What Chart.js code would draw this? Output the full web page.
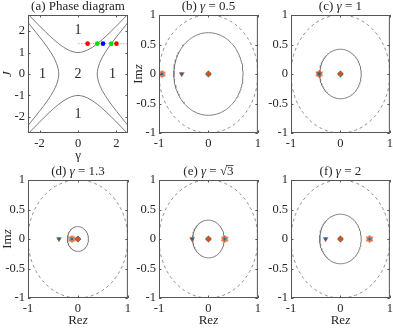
<!DOCTYPE html>
<html>
<head>
<meta charset="utf-8">
<script src="https://cdn.jsdelivr.net/npm/chart.js@4.4.0/dist/chart.umd.min.js"></script>
<style>
  body { margin: 0; background: #fff; }
  #fig { position: relative; width: 393px; height: 329px; overflow: hidden; }
  #fig canvas { position: absolute; }
</style>
</head>
<body>
<div id="fig"></div>
<script>
// ---- values ----
// (a) phase diagram
const gammas = [0.5, 1, 1.3, Math.sqrt(3), 2];
const dotJ = Math.SQRT2;
const dotColors = ['#ff0000', '#00e000', '#0000ff', '#00e000', '#ff0000'];
const topGamma = [-2.6, -2, -1.5, -1, -0.5, 0, 0.5, 1, 1.5, 2, 2.6];
const topJ     = [2.79, 2.24, 1.80, 1.41, 1.12, 1, 1.12, 1.41, 1.80, 2.24, 2.79];
const sideJ     = [-2.75, -2.5, -2, -1.5, -1, -0.5, 0, 0.5, 1, 1.5, 2, 2.5, 2.75];
const sideGamma = [2.93, 2.69, 2.24, 1.80, 1.41, 1.12, 1, 1.12, 1.41, 1.80, 2.24, 2.69, 2.93];
const regionText = ['1', '1', '2', '1', '1'];
const regionGamma = [0, -1.85, 0, 1.8, 0];
const regionJ = [2.03, 0, 0, 0, -1.88];
const phaseXTicks = [-2, 0, 2];
const phaseYTicks = [-2, -1, 0, 1, 2];

// (b)-(f) complex z plane
const gammaTitles = ['0.5', '1', '1.3', '√3', '2'];
const innerRadius = [0.70, 0.42, 0.21, 0.32, 0.42];
const outerRadius = 1;
const triRe = [-0.54, -0.43, -0.38, -0.33, -0.30];
const hexRe = [-0.94, -0.43, -0.12, 0.33, 0.59];
const centerRe = [0, 0, 0, 0, 0];
const zXTicks = [-1, 0, 1];
const zYTicks = [-1, -0.5, 0, 0.5, 1];

// ---- styling ----
const FONT = '"Liberation Serif", "Times New Roman", serif';
const INK = '#262626';
const GRAY = '#7a7a7a';
const BLUE = '#0072BD';
const ORANGE = '#D95319';
const fig = document.getElementById('fig');

function hexagram(color) {
  const c = document.createElement('canvas');
  c.width = 9; c.height = 9;
  const g = c.getContext('2d');
  g.strokeStyle = color; g.lineWidth = 1;
  [-Math.PI / 2, Math.PI / 2].forEach(off => {
    g.beginPath();
    for (let k = 0; k < 3; k++) {
      const a = off + k * 2 * Math.PI / 3;
      const x = 4.5 + 3.6 * Math.cos(a), y = 4.5 + 3.6 * Math.sin(a);
      k ? g.lineTo(x, y) : g.moveTo(x, y);
    }
    g.closePath(); g.stroke();
  });
  return c;
}
const hexImg = hexagram(ORANGE);

function ring(r) {
  const pts = [];
  for (let k = 0; k <= 160; k++) {
    const a = k / 160 * 2 * Math.PI;
    pts.push({ x: r * Math.cos(a), y: r * Math.sin(a) });
  }
  return pts;
}

// draw text made of parts [{t, it, over}] centred on (cx, cy)
function rich(ctx, parts, cx, cy, size) {
  const fonts = parts.map(p => (p.it ? 'italic ' : '') + size + 'px ' + FONT);
  const widths = parts.map((p, i) => { ctx.font = fonts[i]; return ctx.measureText(p.t).width; });
  let x = cx - widths.reduce((s, w) => s + w, 0) / 2;
  ctx.textBaseline = 'middle'; ctx.textAlign = 'left'; ctx.fillStyle = INK;
  parts.forEach((p, i) => {
    ctx.font = fonts[i];
    ctx.fillText(p.t, x, cy);
    if (p.over) {
      ctx.fillRect(x - 1, cy - size * 0.52, widths[i] + 1, 0.8);
    }
    x += widths[i];
  });
}

const decor = {
  id: 'decor',
  afterDatasetsDraw(chart, args, o) {
    const { ctx, chartArea: a, scales } = chart;
    ctx.save();
    ctx.strokeStyle = '#555'; ctx.lineWidth = 1;
    ctx.strokeRect(a.left + 0.5, a.top + 0.5, a.width - 1, a.height - 1);
    ctx.beginPath();
    scales.x.ticks.forEach(tk => {
      const px = Math.round(scales.x.getPixelForValue(tk.value)) + 0.5;
      ctx.moveTo(px, a.bottom); ctx.lineTo(px, a.bottom - 2.5);
      ctx.moveTo(px, a.top); ctx.lineTo(px, a.top + 2.5);
    });
    scales.y.ticks.forEach(tk => {
      const py = Math.round(scales.y.getPixelForValue(tk.value)) + 0.5;
      ctx.moveTo(a.left, py); ctx.lineTo(a.left + 2.5, py);
      ctx.moveTo(a.right, py); ctx.lineTo(a.right - 2.5, py);
    });
    ctx.stroke();
    (o.regions || []).forEach(r => {
      rich(ctx, [{ t: r.t }], scales.x.getPixelForValue(r.x), scales.y.getPixelForValue(r.y), 14);
    });
    ctx.restore();
  },
  afterDraw(chart, args, o) {
    const { ctx, chartArea: a } = chart;
    ctx.save();
    rich(ctx, o.title, (a.left + a.right) / 2, a.top - 8, 13);
    if (o.xLabel) rich(ctx, o.xLabel, (a.left + a.right) / 2, a.bottom + 23, 13);
    if (o.yLabel) {
      ctx.translate(a.left - 20, (a.top + a.bottom) / 2);
      ctx.rotate(-Math.PI / 2);
      rich(ctx, o.yLabel, 0, 0, 13);
    }
    ctx.restore();
  }
};

function axis(min, max, ticks, fit) {
  return {
    type: 'linear', min, max,
    afterBuildTicks(s) { s.ticks = ticks.map(v => ({ value: v })); },
    afterFit: fit,
    grid: { display: false, drawTicks: false },
    border: { display: false },
    ticks: {
      padding: 3, color: INK, font: { family: FONT, size: 12.5 }, maxRotation: 0, autoSkip: false,
      callback: v => String(v)
    }
  };
}

function makePanel(box, range, datasets, deco) {
  const L = 28, T = 15, R = 6, B = 31;
  const cv = document.createElement('canvas');
  cv.width = box.w + L + R; cv.height = box.h + T + B;
  cv.style.left = (box.x - L) + 'px'; cv.style.top = (box.y - T) + 'px';
  fig.appendChild(cv);
  new Chart(cv, {
    type: 'scatter',
    data: { datasets },
    options: {
      responsive: false, animation: false, events: [],
      layout: { padding: { top: T, right: R, left: 0, bottom: 0 } },
      plugins: { legend: { display: false }, tooltip: { enabled: false }, decor: deco },
      scales: {
        x: axis(range.x[0], range.x[1], range.xt, s => { s.height = B; }),
        y: axis(range.y[0], range.y[1], range.yt, s => { s.width = L; })
      }
    },
    plugins: [decor]
  });
}

const line = (data, extra) => Object.assign({
  data, showLine: true, pointRadius: 0, borderColor: GRAY, borderWidth: 1, fill: false
}, extra || {});

// ---- (a) phase diagram ----
const topPts = topGamma.map((g, i) => ({ x: g, y: topJ[i] }));
const botPts = topGamma.map((g, i) => ({ x: g, y: -topJ[i] }));
const rightPts = sideJ.map((j, i) => ({ x: sideGamma[i], y: j }));
const leftPts = sideJ.map((j, i) => ({ x: -sideGamma[i], y: j }));

makePanel({ x: 28, y: 15, w: 100, h: 118 },
  { x: [-2.6, 2.6], y: [-2.75, 2.75], xt: phaseXTicks, yt: phaseYTicks },
  [
    { data: gammas.map(g => ({ x: g, y: dotJ })), pointRadius: 2.3, pointBorderWidth: 0,
      pointBackgroundColor: dotColors },
    line([{ x: 0, y: dotJ }, { x: 2.6, y: dotJ }], { borderColor: '#b8b8b8', borderDash: [1.5, 1.5] }),
    line(topPts, { tension: 0.35 }),
    line(botPts, { tension: 0.35 }),
    line(rightPts, { tension: 0.35 }),
    line(leftPts, { tension: 0.35 })
  ],
  {
    title: [{ t: '(a) Phase diagram' }],
    xLabel: [{ t: 'γ' }],
    yLabel: [{ t: 'J', it: true }],
    regions: regionText.map((t, i) => ({ t, x: regionGamma[i], y: regionJ[i] }))
  });

// ---- (b)-(f) ----
const boxes = [
  { x: 159, y: 15, w: 99, h: 118 },
  { x: 291, y: 15, w: 99, h: 118 },
  { x: 28, y: 180, w: 100, h: 118 },
  { x: 159, y: 180, w: 99, h: 118 },
  { x: 291, y: 180, w: 99, h: 118 }
];
const letters = ['b', 'c', 'd', 'e', 'f'];

boxes.forEach((box, i) => {
  const valueParts = gammaTitles[i] === '√3'
    ? [{ t: ' = √' }, { t: '3', over: true }]
    : [{ t: ' = ' + gammaTitles[i] }];
  makePanel(box,
    { x: [-1, 1], y: [-1, 1], xt: zXTicks, yt: zYTicks },
    [
      { data: [{ x: hexRe[i], y: 0 }, { x: triRe[i], y: 0 }], pointStyle: 'rectRot', pointRadius: 1.8,
        pointBackgroundColor: BLUE, pointBorderWidth: 0 },
      { data: [{ x: centerRe[i], y: 0 }], pointStyle: 'circle', pointRadius: 2.4,
        pointBackgroundColor: ORANGE, pointBorderWidth: 0 },
      { data: [{ x: triRe[i], y: 0 }], pointStyle: 'triangle', rotation: 180, pointRadius: 3.3,
        pointBackgroundColor: ORANGE, pointBorderWidth: 0 },
      { data: [{ x: hexRe[i], y: 0 }], pointStyle: hexImg },
      { data: [{ x: centerRe[i], y: 0 }], pointStyle: 'rectRot', pointRadius: 3.4,
        pointBackgroundColor: BLUE, pointBorderWidth: 0 },
      line(ring(innerRadius[i])),
      line(ring(outerRadius), { borderDash: [3, 3], borderColor: '#8a8a8a' })
    ],
    {
      title: [{ t: '(' + letters[i] + ') ' }, { t: 'γ', it: true }].concat(valueParts),
      xLabel: i >= 2 ? [{ t: 'Re' }, { t: 'z', it: true }] : null,
      yLabel: (i === 0 || i === 2) ? [{ t: 'Im' }, { t: 'z', it: true }] : null
    });
});
</script>
</body>
</html>
